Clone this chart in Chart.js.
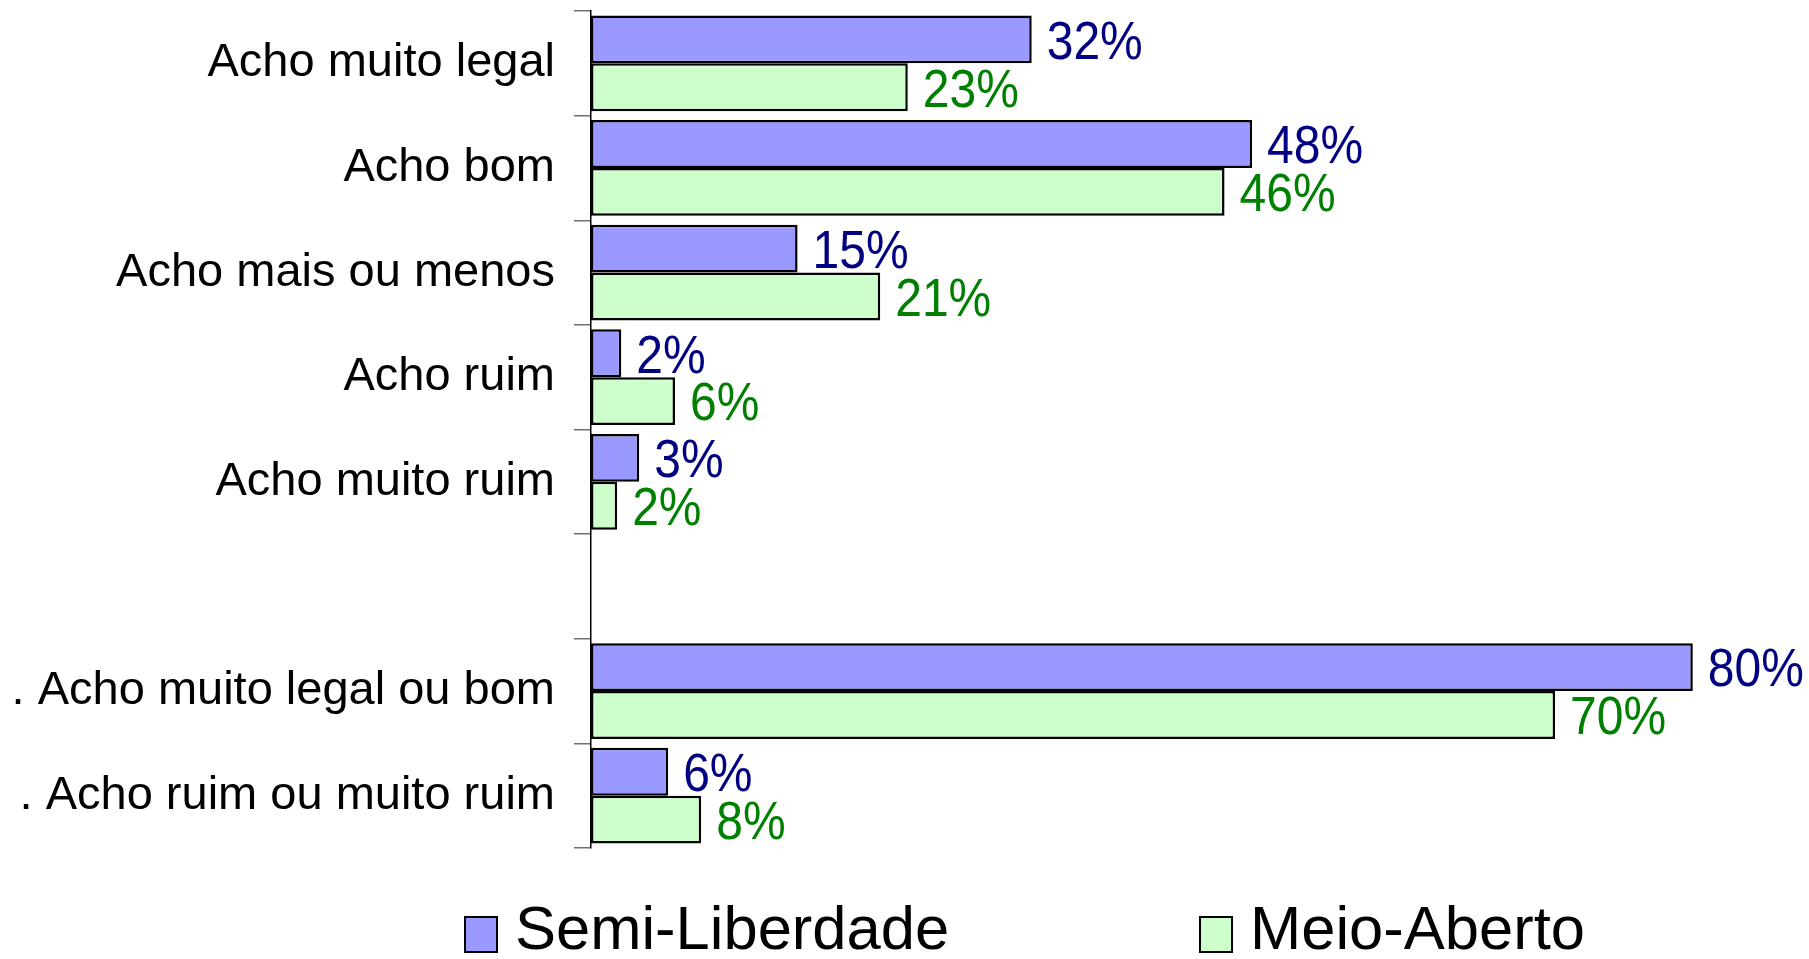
<!DOCTYPE html>
<html>
<head>
<meta charset="utf-8">
<script src="https://cdn.jsdelivr.net/npm/chart.js@4/dist/chart.umd.min.js"></script>
<style>
  html, body { margin: 0; padding: 0; background: #fff; }
  canvas { display: block; }
</style>
</head>
<body>
<canvas id="barChart" width="1809" height="959"></canvas>
<script>
  const categories = [
    'Acho muito legal',
    'Acho bom',
    'Acho mais ou menos',
    'Acho ruim',
    'Acho muito ruim',
    '',
    '. Acho muito legal ou bom',
    '. Acho ruim ou muito ruim'
  ];
  const seriesNames = ['Semi-Liberdade', 'Meio-Aberto'];
  const semiLiberdade = [32, 48, 15, 2.2, 3.5, null, 80, 5.6];
  const meioAberto = [23, 46, 21, 6.1, 1.9, null, 70, 8];
  const semiLabels = ['32%', '48%', '15%', '2%', '3%', '', '80%', '6%'];
  const meioLabels = ['23%', '46%', '21%', '6%', '2%', '', '70%', '8%'];

  const FONT = "'Liberation Sans', Arial, sans-serif";
  const fills = ['#9999ff', '#ccffcc'];
  const labelColors = ['#000080', '#008000'];

  // value labels at the end of every bar (original text is a bit tall)
  const valueLabels = {
    id: 'valueLabels',
    afterDatasetsDraw(chart) {
      const ctx = chart.ctx;
      chart.data.datasets.forEach(function(ds, di) {
        const meta = chart.getDatasetMeta(di);
        meta.data.forEach(function(bar, i) {
          if (ds.data[i] == null) return;
          ctx.save();
          ctx.font = '48px ' + FONT;
          ctx.textAlign = 'left';
          ctx.textBaseline = 'middle';
          ctx.fillStyle = labelColors[di];
          ctx.translate(bar.x + 15, bar.y + 4.5);
          ctx.scale(1, 1.12);
          ctx.fillText(ds.valueText[i], 0, 0);
          ctx.restore();
        });
      });
    }
  };

  // legend under the plot, spread wide like the original
  const wideLegend = {
    id: 'wideLegend',
    afterDraw(chart) {
      const ctx = chart.ctx;
      const boxX = [465, 1200];
      ctx.save();
      ctx.font = '61.5px ' + FONT;
      ctx.textAlign = 'left';
      ctx.textBaseline = 'middle';
      chart.data.datasets.forEach(function(ds, di) {
        ctx.fillStyle = ds.backgroundColor;
        ctx.fillRect(boxX[di], 917, 32, 35);
        ctx.lineWidth = 2;
        ctx.strokeStyle = '#000';
        ctx.strokeRect(boxX[di], 917, 32, 35);
        ctx.fillStyle = '#000';
        ctx.fillText(ds.label, boxX[di] + 50, 932);
      });
      ctx.restore();
    }
  };

  new Chart(document.getElementById('barChart'), {
    type: 'bar',
    data: {
      labels: categories,
      datasets: [{
        label: seriesNames[0],
        data: semiLiberdade,
        valueText: semiLabels,
        backgroundColor: fills[0],
        borderColor: '#000',
        borderWidth: 2.5,
        borderSkipped: false
      }, {
        label: seriesNames[1],
        data: meioAberto,
        valueText: meioLabels,
        backgroundColor: fills[1],
        borderColor: '#000',
        borderWidth: 2.5,
        borderSkipped: false
      }]
    },
    options: {
      indexAxis: 'y',
      responsive: false,
      animation: false,
      categoryPercentage: 0.915,
      barPercentage: 1,
      layout: {
        padding: { top: 11, bottom: 111, left: 0, right: 6 }
      },
      plugins: {
        legend: { display: false },
        tooltip: { enabled: false }
      },
      scales: {
        x: {
          display: false,
          min: 0,
          max: 88
        },
        y: {
          grid: {
            offset: true,
            drawOnChartArea: false,
            drawTicks: true,
            tickLength: 17,
            lineWidth: 1.5,
            color: '#707070'
          },
          border: { display: true, color: '#000', width: 1.5 },
          ticks: {
            autoSkip: false,
            color: '#000',
            padding: 19,
            font: { family: FONT, size: 47 }
          },
          afterFit(scale) {
            scale.width = 591;
            // labels sit inside their bands, no extra room needed
            scale.paddingTop = 0;
            scale.paddingBottom = 0;
          }
        }
      }
    },
    plugins: [valueLabels, wideLegend]
  });
</script>
</body>
</html>
